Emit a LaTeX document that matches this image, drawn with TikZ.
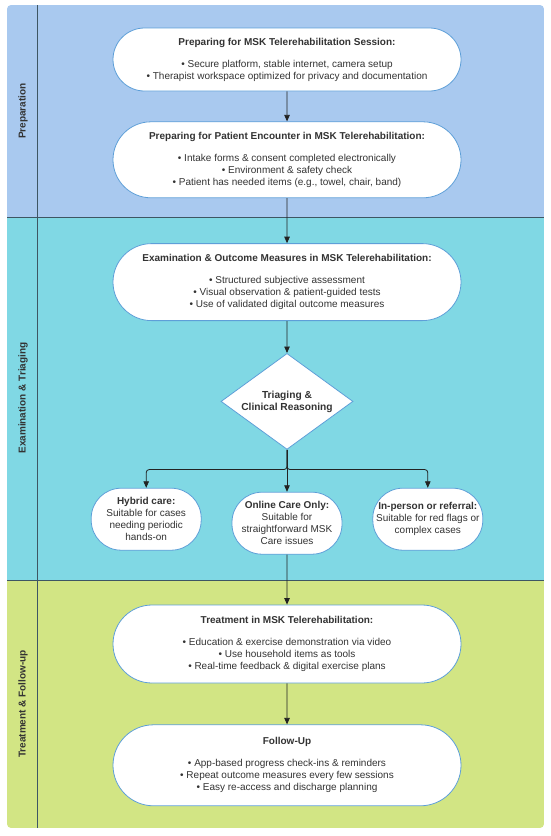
\documentclass[tikz,border=0pt]{standalone}
\usepackage{fontspec}
\setmainfont{Liberation Sans}
\usetikzlibrary{shapes,arrows,positioning,calc,arrows.meta}

\definecolor{prepblue}{HTML}{A9C9EF}
\definecolor{examcyan}{HTML}{80D8E4}
\definecolor{treatgreen}{HTML}{D2E584}
\definecolor{nodeline}{HTML}{5E9FD8}
\definecolor{flowline}{HTML}{222222}
\definecolor{laneline}{HTML}{3E5663}
\definecolor{textgray}{HTML}{333333}

\tikzset{
    stage/.style={rounded rectangle, draw=nodeline, fill=white, line width=0.8pt,
        minimum width=352pt, align=center, text=textgray, inner sep=2pt,
        font=\fontsize{10}{12}\selectfont},
    option/.style={rectangle, rounded corners=30pt, draw=nodeline, fill=white, line width=0.8pt,
        minimum width=110pt, minimum height=62pt, inner sep=0pt, align=center,
        text=textgray, font=\fontsize{10}{12}\selectfont},
    decision/.style={diamond, draw=nodeline, fill=white, line width=0.8pt, aspect=1.375,
        minimum width=132pt, minimum height=96pt, inner sep=0pt, align=center,
        text=textgray, font=\bfseries\fontsize{10.2}{12}\selectfont},
    flow/.style={draw=flowline, line width=0.8pt, -{Triangle[length=6.5pt,width=5.5pt]}},
    lanename/.style={rotate=90, text=textgray, font=\bfseries\fontsize{10}{12}\selectfont},
}

\begin{document}
\begin{tikzpicture}[x=1pt, y=-1pt, node distance=30pt]
    \useasboundingbox (0,0) rectangle (550,836);

    % swimlanes
    \begin{scope}
        \clip[rounded corners=4pt] (7,5) rectangle (544,828);
        \fill[prepblue] (7,5) rectangle (544,217);
        \fill[examcyan] (7,217) rectangle (544,580);
        \fill[treatgreen] (7,580) rectangle (544,828);
    \end{scope}
    \draw[laneline, line width=0.8pt] (7,217) -- (544,217);
    \draw[laneline, line width=0.8pt] (7,580) -- (544,580);
    \draw[laneline, line width=0.8pt] (37,5) -- (37,828);

    \node [lanename] (L1) at (23,111) {Preparation};
    \node [lanename] (L2) at (23,398) {Examination \& Triaging};
    \node [lanename] (L3) at (23,704) {Treatment \& Follow-up};

    % preparation
    \node [stage, minimum height=63pt] (S) at (287,59.5) {\textbf{Preparing for MSK Telerehabilitation Session:}\\[10pt]
        \textbullet\ Secure platform, stable internet, camera setup\\
        \textbullet\ Therapist workspace optimized for privacy and documentation};
    \node [stage, minimum height=76pt, below=30pt of S] (P) {\textbf{Preparing for Patient Encounter in MSK Telerehabilitation:}\\[10pt]
        \textbullet\ Intake forms \& consent completed electronically\\
        \textbullet\ Environment \& safety check\\
        \textbullet\ Patient has needed items (e.g., towel, chair, band)};

    % examination and triaging
    \node [stage, minimum height=77pt, below=45pt of P] (E) {\textbf{Examination \& Outcome Measures in MSK Telerehabilitation:}\\[10pt]
        \textbullet\ Structured subjective assessment\\
        \textbullet\ Visual observation \& patient-guided tests\\
        \textbullet\ Use of validated digital outcome measures};
    \node [decision, below=32pt of E] (D) {Triaging \&\\Clinical Reasoning};

    \node [option, below=42pt of D] (M) {\textbf{Online Care Only:}\\Suitable for\\straightforward MSK\\Care issues};
    \node [option, left=30pt of M, yshift=4pt] (H) {\textbf{Hybrid care:}\\Suitable for cases\\needing periodic\\hands-on};
    \node [option, right=30pt of M, yshift=4pt] (R) {\textbf{In-person or referral:}\\Suitable for red flags or\\complex cases};

    % treatment and follow-up
    \node [stage, minimum height=78pt, below=50pt of M] (T) {\textbf{Treatment in MSK Telerehabilitation:}\\[10pt]
        \textbullet\ Education \& exercise demonstration via video\\
        \textbullet\ Use household items as tools\\
        \textbullet\ Real-time feedback \& digital exercise plans};
    \node [stage, minimum height=81pt, below=41pt of T] (F) {\textbf{Follow-Up}\\[10pt]
        \textbullet\ App-based progress check-ins \& reminders\\
        \textbullet\ Repeat outcome measures every few sessions\\
        \textbullet\ Easy re-access and discharge planning};

    % connectors
    \coordinate (J) at ($(D.south)!0.47!(M.north)$);
    \draw [flow] (S) -- (P);
    \draw [flow] (P) -- (E);
    \draw [flow] (E) -- (D);
    \draw [flow, rounded corners=3pt] (D.south) -- (J) -| (H.north);
    \draw [flow] (D.south) -- (M.north);
    \draw [flow, rounded corners=3pt] (D.south) -- (J) -| (R.north);
    \draw [flow] (M) -- (T);
    \draw [flow] (T) -- (F);
\end{tikzpicture}
\end{document}
